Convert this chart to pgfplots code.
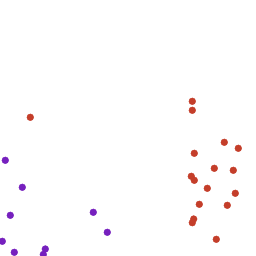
\documentclass[border=0pt]{standalone}
\usepackage{pgfplots}
\pgfplotsset{compat=1.18}
\definecolor{cred}{RGB}{196,62,42}
\definecolor{cpur}{RGB}{118,32,190}
\begin{document}
\begin{tikzpicture}
\useasboundingbox (0,0) rectangle (256bp,256bp);
\begin{axis}[scale only axis, width=256bp, height=256bp, xmin=0, xmax=256, ymin=0, ymax=256, y dir=reverse, hide axis, clip=true, anchor=south west, at={(0,0)}]
\addplot[only marks, mark=*, mark size=3.4bp, color=cred] coordinates {
(30.3,117.3) (192.3,101.3) (192.3,110.3) (224.3,142.3) (238.3,148.3) (194.3,153.3)
(214.3,168.3) (233.3,170.3) (191.3,176.3) (194.3,180.3) (207.3,188.3) (235.3,193.3)
(199.3,204.3) (227.3,205.3) (193.7,219) (192.3,222.7) (216.3,239.3)
};
\addplot[only marks, mark=*, mark size=3.4bp, color=cpur] coordinates {
(5.3,160.3) (22.3,187.3) (10.3,215.3) (2.3,241.3) (14.3,252.3) (45.3,249) (43.3,254.5)
(93.3,212.3) (107.3,232.3)
};
\end{axis}
\end{tikzpicture}
\end{document}
